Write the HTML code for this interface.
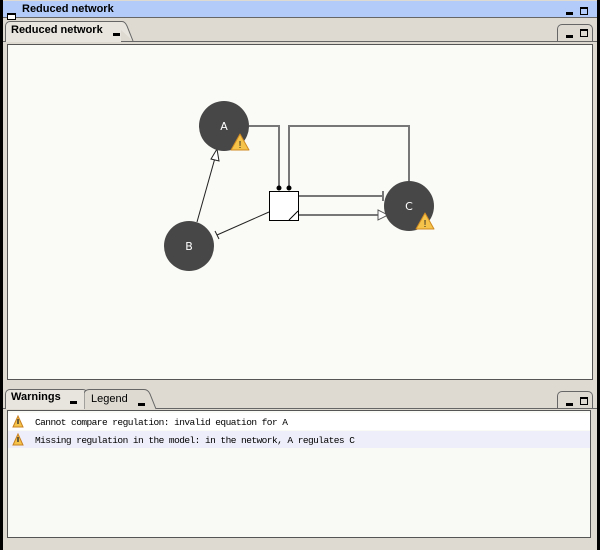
<!DOCTYPE html>
<html><head><style>
body{margin:0;width:600px;height:550px;overflow:hidden;background:#000;font-family:"Liberation Sans",sans-serif;}
.a{position:absolute;box-sizing:border-box;}
.mn{position:absolute;width:7px;height:3px;background:#000;}
.mx{position:absolute;width:8px;height:8px;border:1px solid #000;box-sizing:border-box;border-top-width:2px;}
</style></head><body>
<div class="a" style="left:3px;top:0;width:594px;height:550px;background:#dedad2;"></div>
<div class="a" style="left:3px;top:1px;width:594px;height:17px;background:#b3cbf9;border-bottom:1px solid #666;"></div>
<div class="a" style="left:7px;top:13px;width:9px;height:7px;border:1px solid #000;border-top-width:2px;background:#fff"></div>
<div class="a" style="left:22px;top:3px;font-size:11px;font-weight:bold;">Reduced network</div>
<div class="mn" style="left:566px;top:12px"></div><div class="mx" style="left:580px;top:7px"></div>
<div class="a" style="left:3px;top:41px;width:594px;height:1px;background:#666"></div>
<div class="a" style="left:5px;top:21px;width:116px;height:21px;border:1px solid #666;border-bottom:none;border-right:none;border-radius:5px 0 0 0;background:#e8e5de"></div>
<svg class="a" style="left:112px;top:21px" width="30" height="22"><path d="M0 0.5 L10 0.5 Q13 0.5 15 5 L21 20" fill="#e8e5de" stroke="#666"/></svg>
<div class="a" style="left:11px;top:24px;font-size:11px;font-weight:bold;">Reduced network</div>
<div class="mn" style="left:113px;top:33px"></div>
<div class="a" style="left:557px;top:24px;width:36px;height:18px;border:1px solid #666;border-bottom:none;border-radius:5px 5px 0 0;"></div>
<div class="mn" style="left:566px;top:35px"></div><div class="mx" style="left:580px;top:29px"></div>
<div class="a" style="left:7px;top:44px;width:586px;height:336px;border:1px solid #555;background:#fafaf6;"></div>
<svg class="a" style="left:0;top:0" width="600" height="400">
<g stroke="#777" stroke-width="2" fill="none">
<path d="M249 126 H279 V188"/><path d="M409 181 V126 H289 V188"/>
<path d="M298 196 H383"/><path d="M298 215 H378"/>
</g>
<line x1="383" y1="191" x2="383" y2="201" stroke="#777" stroke-width="2"/>
<polygon points="378,210 388,215 378,220" fill="#fff" stroke="#555"/>
<circle cx="279" cy="188" r="2.5" fill="#000"/><circle cx="289" cy="188" r="2.5" fill="#000"/>
<line x1="269" y1="212" x2="217" y2="235" stroke="#222"/>
<line x1="215" y1="231" x2="219" y2="239" stroke="#222"/>
<line x1="197" y1="222" x2="215" y2="158" stroke="#222"/>
<polygon points="217,149 211,159 219,161" fill="#fff" stroke="#222"/>
<rect x="269.5" y="191.5" width="29" height="29" fill="#fff" stroke="#000"/>
<line x1="289" y1="220" x2="298" y2="211" stroke="#000"/>
<g fill="#474747"><circle cx="224" cy="126" r="25"/><circle cx="189" cy="246" r="25"/><circle cx="409" cy="206" r="25"/></g>
<g fill="#fff" font-size="11" text-anchor="middle" font-family="DejaVu Sans,sans-serif">
<text x="224" y="130">A</text><text x="189" y="250">B</text><text x="409" y="210">C</text></g>
<g id="w"><polygon points="240,134 249,150 231,150" fill="#f5c34a" stroke="#d08a20" stroke-linejoin="round"/>
<text x="240" y="148" font-size="10" text-anchor="middle" fill="#222">!</text></g>
<use href="#w" x="185" y="79"/>
</svg>
<div class="a" style="left:3px;top:408px;width:594px;height:1px;background:#666"></div>
<div class="a" style="left:5px;top:389px;width:83px;height:20px;border:1px solid #666;border-bottom:none;border-radius:5px 5px 0 0;background:#e8e5de"></div>
<svg class="a" style="left:84px;top:389px" width="75" height="21"><path d="M0 20 L0 4 Q1 1 5 0.5 L60 0.5 Q64 0.5 66 5 L72 20" fill="#dedad2" stroke="#666"/></svg>
<div class="a" style="left:11px;top:391px;font-size:11px;font-weight:bold;">Warnings</div>
<div class="mn" style="left:70px;top:401px"></div>
<div class="a" style="left:91px;top:393px;font-size:11px;">Legend</div>
<div class="mn" style="left:138px;top:403px"></div>
<div class="a" style="left:557px;top:391px;width:36px;height:18px;border:1px solid #666;border-bottom:none;border-radius:5px 5px 0 0;"></div>
<div class="mn" style="left:566px;top:403px"></div><div class="mx" style="left:580px;top:397px"></div>
<div class="a" style="left:7px;top:410px;width:584px;height:128px;border:1px solid #555;background:#f9f9f5;"></div>
<div class="a" style="left:8px;top:413px;width:582px;height:17px;background:#fff"></div>
<div class="a" style="left:8px;top:431px;width:582px;height:17px;background:#eeeefa"></div>
<svg class="a" style="left:12px;top:415px" width="12" height="32"><g id="s"><polygon points="6,1 11,12 1,12" fill="#f5c34a" stroke="#c88020"/><rect x="5.3" y="4" width="1.4" height="5" fill="#333"/></g><use href="#s" y="18"/></svg>
<div class="a" style="left:35px;top:414px;font-family:'Liberation Mono',monospace;font-size:9.5px;letter-spacing:-0.55px;line-height:18px;white-space:pre;">Cannot compare regulation: invalid equation for A
Missing regulation in the model: in the network, A regulates C</div>
</body></html>
